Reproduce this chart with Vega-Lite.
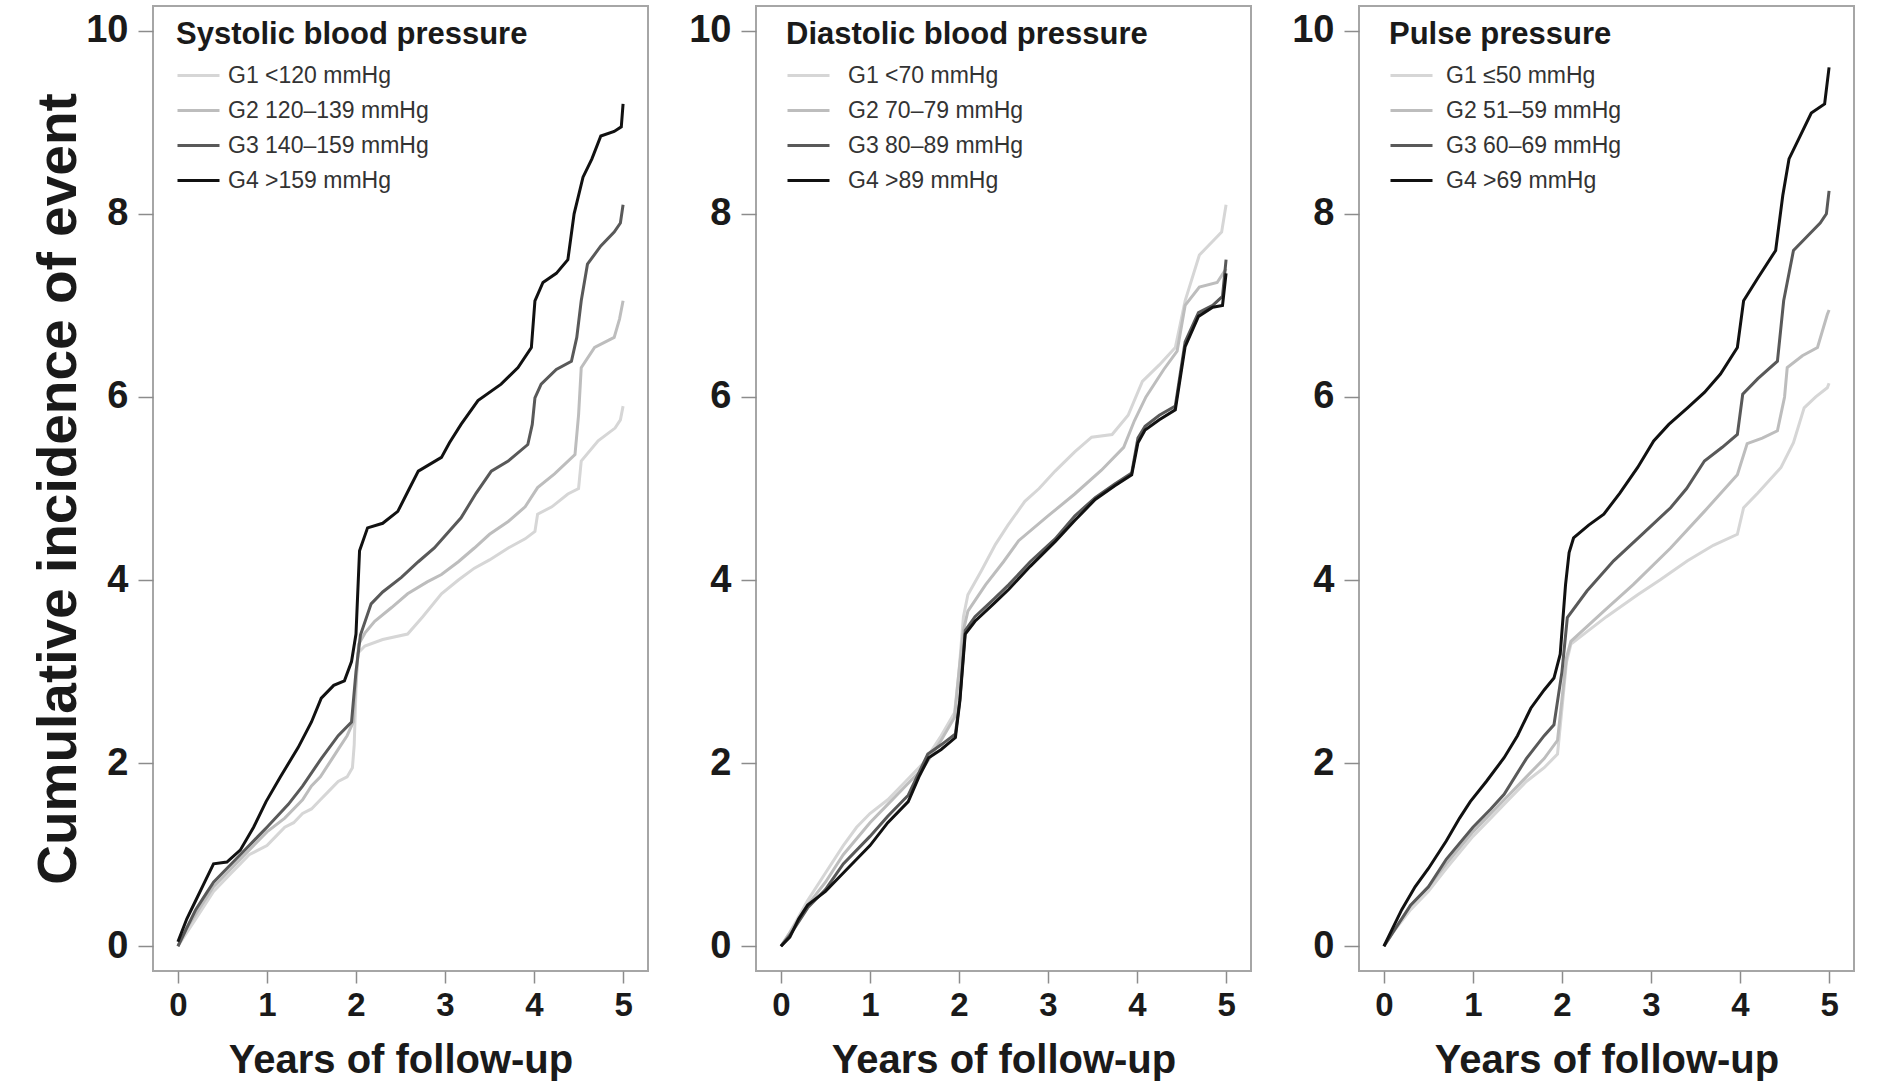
{
  "$schema": "https://vega.github.io/schema/vega-lite/v6.json",
  "background": "white",
  "padding": {"left": 30, "top": 5, "right": 5, "bottom": 5},
  "config": {
    "font": "Liberation Sans",
    "view": {"stroke": "#a6a6a6", "strokeWidth": 2},
    "concat": {"spacing": 38},
    "axis": {"domain": false, "grid": false, "tickColor": "#8c8c8c", "tickWidth": 1.5, "labelFont": "Liberation Sans", "labelFontWeight": "bold", "labelColor": "#1a1a1a", "titleFont": "Liberation Sans", "titleFontWeight": "bold", "titleColor": "#1a1a1a", "labelOverlap": false},
    "axisX": {"tickSize": 12, "labelFontSize": 33, "labelPadding": 6, "titleFontSize": 40, "titlePadding": 18},
    "axisY": {"tickSize": 15, "labelFontSize": 38, "labelPadding": 10, "titleFontSize": 55, "titlePadding": -2},
    "legend": {"titleFont": "Liberation Sans", "titleFontSize": 31, "titleFontWeight": "bold", "titleColor": "#1a1a1a", "labelFont": "Liberation Sans", "labelFontSize": 23, "labelColor": "#333333", "symbolType": "stroke", "symbolSize": 1764, "symbolStrokeWidth": 3, "rowPadding": -1, "titlePadding": 2, "padding": 0, "titleLimit": 700, "labelLimit": 400}
  },
  "datasets": {
    "sbp": [
      {"group":"G1 <120 mmHg","t":0,"ci":0},{"group":"G1 <120 mmHg","t":0.1,"ci":0.15},{"group":"G1 <120 mmHg","t":0.2,"ci":0.3},{"group":"G1 <120 mmHg","t":0.3,"ci":0.45},{"group":"G1 <120 mmHg","t":0.4,"ci":0.6},{"group":"G1 <120 mmHg","t":0.5,"ci":0.7},{"group":"G1 <120 mmHg","t":0.6,"ci":0.8},{"group":"G1 <120 mmHg","t":0.7,"ci":0.9},{"group":"G1 <120 mmHg","t":0.8,"ci":1.0},{"group":"G1 <120 mmHg","t":0.9,"ci":1.05},{"group":"G1 <120 mmHg","t":1.0,"ci":1.1},{"group":"G1 <120 mmHg","t":1.1,"ci":1.2},{"group":"G1 <120 mmHg","t":1.2,"ci":1.3},{"group":"G1 <120 mmHg","t":1.3,"ci":1.35},{"group":"G1 <120 mmHg","t":1.4,"ci":1.45},{"group":"G1 <120 mmHg","t":1.5,"ci":1.5},{"group":"G1 <120 mmHg","t":1.6,"ci":1.6},{"group":"G1 <120 mmHg","t":1.7,"ci":1.7},{"group":"G1 <120 mmHg","t":1.8,"ci":1.8},{"group":"G1 <120 mmHg","t":1.9,"ci":1.85},{"group":"G1 <120 mmHg","t":1.96,"ci":1.95},{"group":"G1 <120 mmHg","t":1.98,"ci":2.2},{"group":"G1 <120 mmHg","t":2.0,"ci":2.8},{"group":"G1 <120 mmHg","t":2.02,"ci":3.2},{"group":"G1 <120 mmHg","t":2.1,"ci":3.28},{"group":"G1 <120 mmHg","t":2.3,"ci":3.35},{"group":"G1 <120 mmHg","t":2.58,"ci":3.41},{"group":"G1 <120 mmHg","t":2.75,"ci":3.6},{"group":"G1 <120 mmHg","t":2.96,"ci":3.85},{"group":"G1 <120 mmHg","t":3.15,"ci":4.0},{"group":"G1 <120 mmHg","t":3.33,"ci":4.13},{"group":"G1 <120 mmHg","t":3.5,"ci":4.22},{"group":"G1 <120 mmHg","t":3.71,"ci":4.35},{"group":"G1 <120 mmHg","t":3.9,"ci":4.45},{"group":"G1 <120 mmHg","t":4.01,"ci":4.53},{"group":"G1 <120 mmHg","t":4.04,"ci":4.72},{"group":"G1 <120 mmHg","t":4.2,"ci":4.8},{"group":"G1 <120 mmHg","t":4.38,"ci":4.94},{"group":"G1 <120 mmHg","t":4.5,"ci":5.0},{"group":"G1 <120 mmHg","t":4.53,"ci":5.3},{"group":"G1 <120 mmHg","t":4.72,"ci":5.52},{"group":"G1 <120 mmHg","t":4.91,"ci":5.66},{"group":"G1 <120 mmHg","t":4.97,"ci":5.75},{"group":"G1 <120 mmHg","t":5.0,"ci":5.9},
      {"group":"G2 120–139 mmHg","t":0,"ci":0},{"group":"G2 120–139 mmHg","t":0.1,"ci":0.2},{"group":"G2 120–139 mmHg","t":0.2,"ci":0.35},{"group":"G2 120–139 mmHg","t":0.3,"ci":0.5},{"group":"G2 120–139 mmHg","t":0.4,"ci":0.65},{"group":"G2 120–139 mmHg","t":0.5,"ci":0.75},{"group":"G2 120–139 mmHg","t":0.7,"ci":0.95},{"group":"G2 120–139 mmHg","t":0.9,"ci":1.15},{"group":"G2 120–139 mmHg","t":1.0,"ci":1.25},{"group":"G2 120–139 mmHg","t":1.2,"ci":1.4},{"group":"G2 120–139 mmHg","t":1.4,"ci":1.6},{"group":"G2 120–139 mmHg","t":1.5,"ci":1.75},{"group":"G2 120–139 mmHg","t":1.6,"ci":1.85},{"group":"G2 120–139 mmHg","t":1.7,"ci":2.0},{"group":"G2 120–139 mmHg","t":1.8,"ci":2.15},{"group":"G2 120–139 mmHg","t":1.9,"ci":2.3},{"group":"G2 120–139 mmHg","t":1.97,"ci":2.45},{"group":"G2 120–139 mmHg","t":2.0,"ci":2.9},{"group":"G2 120–139 mmHg","t":2.03,"ci":3.3},{"group":"G2 120–139 mmHg","t":2.1,"ci":3.42},{"group":"G2 120–139 mmHg","t":2.21,"ci":3.55},{"group":"G2 120–139 mmHg","t":2.4,"ci":3.7},{"group":"G2 120–139 mmHg","t":2.58,"ci":3.85},{"group":"G2 120–139 mmHg","t":2.8,"ci":3.98},{"group":"G2 120–139 mmHg","t":2.96,"ci":4.06},{"group":"G2 120–139 mmHg","t":3.15,"ci":4.2},{"group":"G2 120–139 mmHg","t":3.33,"ci":4.35},{"group":"G2 120–139 mmHg","t":3.5,"ci":4.5},{"group":"G2 120–139 mmHg","t":3.71,"ci":4.64},{"group":"G2 120–139 mmHg","t":3.9,"ci":4.8},{"group":"G2 120–139 mmHg","t":4.04,"ci":5.01},{"group":"G2 120–139 mmHg","t":4.23,"ci":5.16},{"group":"G2 120–139 mmHg","t":4.46,"ci":5.37},{"group":"G2 120–139 mmHg","t":4.5,"ci":5.8},{"group":"G2 120–139 mmHg","t":4.53,"ci":6.32},{"group":"G2 120–139 mmHg","t":4.68,"ci":6.54},{"group":"G2 120–139 mmHg","t":4.9,"ci":6.65},{"group":"G2 120–139 mmHg","t":4.96,"ci":6.85},{"group":"G2 120–139 mmHg","t":5.0,"ci":7.05},
      {"group":"G3 140–159 mmHg","t":0,"ci":0},{"group":"G3 140–159 mmHg","t":0.1,"ci":0.2},{"group":"G3 140–159 mmHg","t":0.2,"ci":0.4},{"group":"G3 140–159 mmHg","t":0.3,"ci":0.55},{"group":"G3 140–159 mmHg","t":0.4,"ci":0.7},{"group":"G3 140–159 mmHg","t":0.5,"ci":0.8},{"group":"G3 140–159 mmHg","t":0.7,"ci":1.0},{"group":"G3 140–159 mmHg","t":0.9,"ci":1.2},{"group":"G3 140–159 mmHg","t":1.0,"ci":1.3},{"group":"G3 140–159 mmHg","t":1.24,"ci":1.55},{"group":"G3 140–159 mmHg","t":1.4,"ci":1.75},{"group":"G3 140–159 mmHg","t":1.61,"ci":2.05},{"group":"G3 140–159 mmHg","t":1.8,"ci":2.3},{"group":"G3 140–159 mmHg","t":1.95,"ci":2.45},{"group":"G3 140–159 mmHg","t":2.0,"ci":3.0},{"group":"G3 140–159 mmHg","t":2.05,"ci":3.4},{"group":"G3 140–159 mmHg","t":2.17,"ci":3.74},{"group":"G3 140–159 mmHg","t":2.3,"ci":3.87},{"group":"G3 140–159 mmHg","t":2.51,"ci":4.03},{"group":"G3 140–159 mmHg","t":2.7,"ci":4.2},{"group":"G3 140–159 mmHg","t":2.88,"ci":4.35},{"group":"G3 140–159 mmHg","t":3.18,"ci":4.68},{"group":"G3 140–159 mmHg","t":3.35,"ci":4.95},{"group":"G3 140–159 mmHg","t":3.52,"ci":5.19},{"group":"G3 140–159 mmHg","t":3.71,"ci":5.3},{"group":"G3 140–159 mmHg","t":3.93,"ci":5.48},{"group":"G3 140–159 mmHg","t":3.98,"ci":5.7},{"group":"G3 140–159 mmHg","t":4.01,"ci":5.99},{"group":"G3 140–159 mmHg","t":4.08,"ci":6.14},{"group":"G3 140–159 mmHg","t":4.25,"ci":6.3},{"group":"G3 140–159 mmHg","t":4.42,"ci":6.39},{"group":"G3 140–159 mmHg","t":4.48,"ci":6.65},{"group":"G3 140–159 mmHg","t":4.53,"ci":7.05},{"group":"G3 140–159 mmHg","t":4.6,"ci":7.45},{"group":"G3 140–159 mmHg","t":4.75,"ci":7.65},{"group":"G3 140–159 mmHg","t":4.9,"ci":7.8},{"group":"G3 140–159 mmHg","t":4.97,"ci":7.9},{"group":"G3 140–159 mmHg","t":5.0,"ci":8.1},
      {"group":"G4 >159 mmHg","t":0,"ci":0.05},{"group":"G4 >159 mmHg","t":0.1,"ci":0.3},{"group":"G4 >159 mmHg","t":0.2,"ci":0.5},{"group":"G4 >159 mmHg","t":0.3,"ci":0.7},{"group":"G4 >159 mmHg","t":0.4,"ci":0.9},{"group":"G4 >159 mmHg","t":0.55,"ci":0.92},{"group":"G4 >159 mmHg","t":0.7,"ci":1.05},{"group":"G4 >159 mmHg","t":0.85,"ci":1.3},{"group":"G4 >159 mmHg","t":0.99,"ci":1.58},{"group":"G4 >159 mmHg","t":1.15,"ci":1.85},{"group":"G4 >159 mmHg","t":1.35,"ci":2.17},{"group":"G4 >159 mmHg","t":1.5,"ci":2.45},{"group":"G4 >159 mmHg","t":1.61,"ci":2.71},{"group":"G4 >159 mmHg","t":1.75,"ci":2.85},{"group":"G4 >159 mmHg","t":1.87,"ci":2.9},{"group":"G4 >159 mmHg","t":1.95,"ci":3.11},{"group":"G4 >159 mmHg","t":2.0,"ci":3.41},{"group":"G4 >159 mmHg","t":2.04,"ci":4.32},{"group":"G4 >159 mmHg","t":2.13,"ci":4.57},{"group":"G4 >159 mmHg","t":2.3,"ci":4.62},{"group":"G4 >159 mmHg","t":2.47,"ci":4.75},{"group":"G4 >159 mmHg","t":2.6,"ci":5.0},{"group":"G4 >159 mmHg","t":2.7,"ci":5.19},{"group":"G4 >159 mmHg","t":2.96,"ci":5.34},{"group":"G4 >159 mmHg","t":3.05,"ci":5.5},{"group":"G4 >159 mmHg","t":3.18,"ci":5.7},{"group":"G4 >159 mmHg","t":3.37,"ci":5.96},{"group":"G4 >159 mmHg","t":3.63,"ci":6.14},{"group":"G4 >159 mmHg","t":3.82,"ci":6.32},{"group":"G4 >159 mmHg","t":3.97,"ci":6.54},{"group":"G4 >159 mmHg","t":4.01,"ci":7.05},{"group":"G4 >159 mmHg","t":4.1,"ci":7.25},{"group":"G4 >159 mmHg","t":4.25,"ci":7.35},{"group":"G4 >159 mmHg","t":4.38,"ci":7.5},{"group":"G4 >159 mmHg","t":4.45,"ci":8.0},{"group":"G4 >159 mmHg","t":4.55,"ci":8.4},{"group":"G4 >159 mmHg","t":4.65,"ci":8.6},{"group":"G4 >159 mmHg","t":4.75,"ci":8.85},{"group":"G4 >159 mmHg","t":4.9,"ci":8.9},{"group":"G4 >159 mmHg","t":4.98,"ci":8.95},{"group":"G4 >159 mmHg","t":5.0,"ci":9.2}
    ],
    "dbp": [
      {"group":"G1 <70 mmHg","t":0,"ci":0},{"group":"G1 <70 mmHg","t":0.1,"ci":0.15},{"group":"G1 <70 mmHg","t":0.3,"ci":0.5},{"group":"G1 <70 mmHg","t":0.5,"ci":0.8},{"group":"G1 <70 mmHg","t":0.7,"ci":1.1},{"group":"G1 <70 mmHg","t":0.85,"ci":1.3},{"group":"G1 <70 mmHg","t":1.0,"ci":1.45},{"group":"G1 <70 mmHg","t":1.2,"ci":1.6},{"group":"G1 <70 mmHg","t":1.4,"ci":1.8},{"group":"G1 <70 mmHg","t":1.6,"ci":2.0},{"group":"G1 <70 mmHg","t":1.8,"ci":2.3},{"group":"G1 <70 mmHg","t":1.95,"ci":2.55},{"group":"G1 <70 mmHg","t":2.0,"ci":3.0},{"group":"G1 <70 mmHg","t":2.05,"ci":3.6},{"group":"G1 <70 mmHg","t":2.1,"ci":3.84},{"group":"G1 <70 mmHg","t":2.25,"ci":4.1},{"group":"G1 <70 mmHg","t":2.41,"ci":4.39},{"group":"G1 <70 mmHg","t":2.55,"ci":4.6},{"group":"G1 <70 mmHg","t":2.74,"ci":4.86},{"group":"G1 <70 mmHg","t":2.9,"ci":5.0},{"group":"G1 <70 mmHg","t":3.08,"ci":5.19},{"group":"G1 <70 mmHg","t":3.3,"ci":5.4},{"group":"G1 <70 mmHg","t":3.49,"ci":5.56},{"group":"G1 <70 mmHg","t":3.72,"ci":5.59},{"group":"G1 <70 mmHg","t":3.9,"ci":5.8},{"group":"G1 <70 mmHg","t":4.06,"ci":6.17},{"group":"G1 <70 mmHg","t":4.25,"ci":6.35},{"group":"G1 <70 mmHg","t":4.43,"ci":6.54},{"group":"G1 <70 mmHg","t":4.54,"ci":7.05},{"group":"G1 <70 mmHg","t":4.7,"ci":7.55},{"group":"G1 <70 mmHg","t":4.85,"ci":7.7},{"group":"G1 <70 mmHg","t":4.95,"ci":7.8},{"group":"G1 <70 mmHg","t":5.0,"ci":8.1},
      {"group":"G2 70–79 mmHg","t":0,"ci":0},{"group":"G2 70–79 mmHg","t":0.1,"ci":0.15},{"group":"G2 70–79 mmHg","t":0.3,"ci":0.45},{"group":"G2 70–79 mmHg","t":0.5,"ci":0.7},{"group":"G2 70–79 mmHg","t":0.7,"ci":1.0},{"group":"G2 70–79 mmHg","t":1.0,"ci":1.35},{"group":"G2 70–79 mmHg","t":1.2,"ci":1.55},{"group":"G2 70–79 mmHg","t":1.4,"ci":1.75},{"group":"G2 70–79 mmHg","t":1.6,"ci":1.95},{"group":"G2 70–79 mmHg","t":1.8,"ci":2.25},{"group":"G2 70–79 mmHg","t":1.95,"ci":2.5},{"group":"G2 70–79 mmHg","t":2.0,"ci":3.0},{"group":"G2 70–79 mmHg","t":2.05,"ci":3.45},{"group":"G2 70–79 mmHg","t":2.1,"ci":3.66},{"group":"G2 70–79 mmHg","t":2.3,"ci":3.95},{"group":"G2 70–79 mmHg","t":2.5,"ci":4.2},{"group":"G2 70–79 mmHg","t":2.67,"ci":4.43},{"group":"G2 70–79 mmHg","t":3.0,"ci":4.7},{"group":"G2 70–79 mmHg","t":3.3,"ci":4.94},{"group":"G2 70–79 mmHg","t":3.6,"ci":5.2},{"group":"G2 70–79 mmHg","t":3.85,"ci":5.45},{"group":"G2 70–79 mmHg","t":3.97,"ci":5.74},{"group":"G2 70–79 mmHg","t":4.1,"ci":6.0},{"group":"G2 70–79 mmHg","t":4.3,"ci":6.3},{"group":"G2 70–79 mmHg","t":4.45,"ci":6.5},{"group":"G2 70–79 mmHg","t":4.54,"ci":7.0},{"group":"G2 70–79 mmHg","t":4.7,"ci":7.2},{"group":"G2 70–79 mmHg","t":4.9,"ci":7.25},{"group":"G2 70–79 mmHg","t":5.0,"ci":7.4},
      {"group":"G3 80–89 mmHg","t":0,"ci":0},{"group":"G3 80–89 mmHg","t":0.1,"ci":0.12},{"group":"G3 80–89 mmHg","t":0.3,"ci":0.42},{"group":"G3 80–89 mmHg","t":0.5,"ci":0.62},{"group":"G3 80–89 mmHg","t":0.7,"ci":0.9},{"group":"G3 80–89 mmHg","t":1.0,"ci":1.2},{"group":"G3 80–89 mmHg","t":1.2,"ci":1.42},{"group":"G3 80–89 mmHg","t":1.43,"ci":1.65},{"group":"G3 80–89 mmHg","t":1.65,"ci":2.1},{"group":"G3 80–89 mmHg","t":1.8,"ci":2.2},{"group":"G3 80–89 mmHg","t":1.96,"ci":2.32},{"group":"G3 80–89 mmHg","t":2.01,"ci":2.7},{"group":"G3 80–89 mmHg","t":2.07,"ci":3.45},{"group":"G3 80–89 mmHg","t":2.18,"ci":3.6},{"group":"G3 80–89 mmHg","t":2.4,"ci":3.8},{"group":"G3 80–89 mmHg","t":2.56,"ci":3.95},{"group":"G3 80–89 mmHg","t":2.8,"ci":4.2},{"group":"G3 80–89 mmHg","t":3.08,"ci":4.45},{"group":"G3 80–89 mmHg","t":3.3,"ci":4.7},{"group":"G3 80–89 mmHg","t":3.53,"ci":4.9},{"group":"G3 80–89 mmHg","t":3.75,"ci":5.05},{"group":"G3 80–89 mmHg","t":3.94,"ci":5.17},{"group":"G3 80–89 mmHg","t":4.01,"ci":5.55},{"group":"G3 80–89 mmHg","t":4.09,"ci":5.68},{"group":"G3 80–89 mmHg","t":4.25,"ci":5.8},{"group":"G3 80–89 mmHg","t":4.43,"ci":5.9},{"group":"G3 80–89 mmHg","t":4.54,"ci":6.6},{"group":"G3 80–89 mmHg","t":4.69,"ci":6.92},{"group":"G3 80–89 mmHg","t":4.85,"ci":7.0},{"group":"G3 80–89 mmHg","t":4.96,"ci":7.1},{"group":"G3 80–89 mmHg","t":5.0,"ci":7.5},
      {"group":"G4 >89 mmHg","t":0,"ci":0},{"group":"G4 >89 mmHg","t":0.1,"ci":0.1},{"group":"G4 >89 mmHg","t":0.2,"ci":0.3},{"group":"G4 >89 mmHg","t":0.3,"ci":0.45},{"group":"G4 >89 mmHg","t":0.5,"ci":0.6},{"group":"G4 >89 mmHg","t":0.7,"ci":0.8},{"group":"G4 >89 mmHg","t":0.85,"ci":0.95},{"group":"G4 >89 mmHg","t":1.0,"ci":1.1},{"group":"G4 >89 mmHg","t":1.2,"ci":1.35},{"group":"G4 >89 mmHg","t":1.43,"ci":1.58},{"group":"G4 >89 mmHg","t":1.55,"ci":1.85},{"group":"G4 >89 mmHg","t":1.66,"ci":2.06},{"group":"G4 >89 mmHg","t":1.8,"ci":2.15},{"group":"G4 >89 mmHg","t":1.96,"ci":2.28},{"group":"G4 >89 mmHg","t":2.01,"ci":2.68},{"group":"G4 >89 mmHg","t":2.07,"ci":3.41},{"group":"G4 >89 mmHg","t":2.18,"ci":3.55},{"group":"G4 >89 mmHg","t":2.4,"ci":3.75},{"group":"G4 >89 mmHg","t":2.56,"ci":3.9},{"group":"G4 >89 mmHg","t":2.8,"ci":4.15},{"group":"G4 >89 mmHg","t":3.08,"ci":4.42},{"group":"G4 >89 mmHg","t":3.3,"ci":4.65},{"group":"G4 >89 mmHg","t":3.53,"ci":4.88},{"group":"G4 >89 mmHg","t":3.75,"ci":5.03},{"group":"G4 >89 mmHg","t":3.94,"ci":5.15},{"group":"G4 >89 mmHg","t":4.01,"ci":5.5},{"group":"G4 >89 mmHg","t":4.09,"ci":5.64},{"group":"G4 >89 mmHg","t":4.25,"ci":5.75},{"group":"G4 >89 mmHg","t":4.43,"ci":5.86},{"group":"G4 >89 mmHg","t":4.54,"ci":6.55},{"group":"G4 >89 mmHg","t":4.69,"ci":6.88},{"group":"G4 >89 mmHg","t":4.85,"ci":6.98},{"group":"G4 >89 mmHg","t":4.96,"ci":7.0},{"group":"G4 >89 mmHg","t":5.0,"ci":7.35}
    ],
    "pp": [
      {"group":"G1 ≤50 mmHg","t":0,"ci":0},{"group":"G1 ≤50 mmHg","t":0.1,"ci":0.15},{"group":"G1 ≤50 mmHg","t":0.3,"ci":0.4},{"group":"G1 ≤50 mmHg","t":0.5,"ci":0.6},{"group":"G1 ≤50 mmHg","t":0.7,"ci":0.85},{"group":"G1 ≤50 mmHg","t":1.0,"ci":1.2},{"group":"G1 ≤50 mmHg","t":1.2,"ci":1.4},{"group":"G1 ≤50 mmHg","t":1.4,"ci":1.6},{"group":"G1 ≤50 mmHg","t":1.6,"ci":1.8},{"group":"G1 ≤50 mmHg","t":1.8,"ci":1.95},{"group":"G1 ≤50 mmHg","t":1.95,"ci":2.1},{"group":"G1 ≤50 mmHg","t":2.0,"ci":2.6},{"group":"G1 ≤50 mmHg","t":2.05,"ci":3.1},{"group":"G1 ≤50 mmHg","t":2.1,"ci":3.3},{"group":"G1 ≤50 mmHg","t":2.3,"ci":3.45},{"group":"G1 ≤50 mmHg","t":2.5,"ci":3.6},{"group":"G1 ≤50 mmHg","t":2.85,"ci":3.84},{"group":"G1 ≤50 mmHg","t":3.1,"ci":4.0},{"group":"G1 ≤50 mmHg","t":3.41,"ci":4.21},{"group":"G1 ≤50 mmHg","t":3.7,"ci":4.38},{"group":"G1 ≤50 mmHg","t":3.97,"ci":4.5},{"group":"G1 ≤50 mmHg","t":4.04,"ci":4.79},{"group":"G1 ≤50 mmHg","t":4.2,"ci":4.95},{"group":"G1 ≤50 mmHg","t":4.46,"ci":5.23},{"group":"G1 ≤50 mmHg","t":4.6,"ci":5.5},{"group":"G1 ≤50 mmHg","t":4.72,"ci":5.88},{"group":"G1 ≤50 mmHg","t":4.85,"ci":6.0},{"group":"G1 ≤50 mmHg","t":4.98,"ci":6.1},{"group":"G1 ≤50 mmHg","t":5.0,"ci":6.15},
      {"group":"G2 51–59 mmHg","t":0,"ci":0},{"group":"G2 51–59 mmHg","t":0.1,"ci":0.15},{"group":"G2 51–59 mmHg","t":0.3,"ci":0.45},{"group":"G2 51–59 mmHg","t":0.5,"ci":0.65},{"group":"G2 51–59 mmHg","t":0.7,"ci":0.9},{"group":"G2 51–59 mmHg","t":1.0,"ci":1.25},{"group":"G2 51–59 mmHg","t":1.2,"ci":1.45},{"group":"G2 51–59 mmHg","t":1.4,"ci":1.65},{"group":"G2 51–59 mmHg","t":1.6,"ci":1.85},{"group":"G2 51–59 mmHg","t":1.8,"ci":2.05},{"group":"G2 51–59 mmHg","t":1.95,"ci":2.25},{"group":"G2 51–59 mmHg","t":2.0,"ci":2.7},{"group":"G2 51–59 mmHg","t":2.05,"ci":3.15},{"group":"G2 51–59 mmHg","t":2.1,"ci":3.33},{"group":"G2 51–59 mmHg","t":2.47,"ci":3.66},{"group":"G2 51–59 mmHg","t":2.8,"ci":3.95},{"group":"G2 51–59 mmHg","t":3.22,"ci":4.35},{"group":"G2 51–59 mmHg","t":3.6,"ci":4.75},{"group":"G2 51–59 mmHg","t":3.97,"ci":5.15},{"group":"G2 51–59 mmHg","t":4.08,"ci":5.49},{"group":"G2 51–59 mmHg","t":4.25,"ci":5.55},{"group":"G2 51–59 mmHg","t":4.42,"ci":5.63},{"group":"G2 51–59 mmHg","t":4.5,"ci":6.0},{"group":"G2 51–59 mmHg","t":4.53,"ci":6.32},{"group":"G2 51–59 mmHg","t":4.7,"ci":6.45},{"group":"G2 51–59 mmHg","t":4.87,"ci":6.54},{"group":"G2 51–59 mmHg","t":4.98,"ci":6.9},{"group":"G2 51–59 mmHg","t":5.0,"ci":6.95},
      {"group":"G3 60–69 mmHg","t":0,"ci":0},{"group":"G3 60–69 mmHg","t":0.1,"ci":0.15},{"group":"G3 60–69 mmHg","t":0.3,"ci":0.45},{"group":"G3 60–69 mmHg","t":0.5,"ci":0.65},{"group":"G3 60–69 mmHg","t":0.7,"ci":0.95},{"group":"G3 60–69 mmHg","t":1.0,"ci":1.3},{"group":"G3 60–69 mmHg","t":1.2,"ci":1.5},{"group":"G3 60–69 mmHg","t":1.35,"ci":1.66},{"group":"G3 60–69 mmHg","t":1.6,"ci":2.05},{"group":"G3 60–69 mmHg","t":1.8,"ci":2.3},{"group":"G3 60–69 mmHg","t":1.91,"ci":2.42},{"group":"G3 60–69 mmHg","t":2.0,"ci":3.0},{"group":"G3 60–69 mmHg","t":2.06,"ci":3.59},{"group":"G3 60–69 mmHg","t":2.28,"ci":3.88},{"group":"G3 60–69 mmHg","t":2.58,"ci":4.21},{"group":"G3 60–69 mmHg","t":2.9,"ci":4.5},{"group":"G3 60–69 mmHg","t":3.22,"ci":4.79},{"group":"G3 60–69 mmHg","t":3.4,"ci":5.0},{"group":"G3 60–69 mmHg","t":3.6,"ci":5.3},{"group":"G3 60–69 mmHg","t":3.8,"ci":5.45},{"group":"G3 60–69 mmHg","t":3.97,"ci":5.59},{"group":"G3 60–69 mmHg","t":4.03,"ci":6.03},{"group":"G3 60–69 mmHg","t":4.2,"ci":6.2},{"group":"G3 60–69 mmHg","t":4.42,"ci":6.39},{"group":"G3 60–69 mmHg","t":4.49,"ci":7.05},{"group":"G3 60–69 mmHg","t":4.6,"ci":7.6},{"group":"G3 60–69 mmHg","t":4.75,"ci":7.75},{"group":"G3 60–69 mmHg","t":4.9,"ci":7.9},{"group":"G3 60–69 mmHg","t":4.97,"ci":8.0},{"group":"G3 60–69 mmHg","t":5.0,"ci":8.25},
      {"group":"G4 >69 mmHg","t":0,"ci":0},{"group":"G4 >69 mmHg","t":0.1,"ci":0.2},{"group":"G4 >69 mmHg","t":0.2,"ci":0.4},{"group":"G4 >69 mmHg","t":0.35,"ci":0.65},{"group":"G4 >69 mmHg","t":0.5,"ci":0.85},{"group":"G4 >69 mmHg","t":0.7,"ci":1.15},{"group":"G4 >69 mmHg","t":0.85,"ci":1.4},{"group":"G4 >69 mmHg","t":0.97,"ci":1.58},{"group":"G4 >69 mmHg","t":1.15,"ci":1.8},{"group":"G4 >69 mmHg","t":1.35,"ci":2.06},{"group":"G4 >69 mmHg","t":1.5,"ci":2.3},{"group":"G4 >69 mmHg","t":1.65,"ci":2.6},{"group":"G4 >69 mmHg","t":1.8,"ci":2.8},{"group":"G4 >69 mmHg","t":1.91,"ci":2.93},{"group":"G4 >69 mmHg","t":1.98,"ci":3.19},{"group":"G4 >69 mmHg","t":2.04,"ci":3.95},{"group":"G4 >69 mmHg","t":2.08,"ci":4.3},{"group":"G4 >69 mmHg","t":2.13,"ci":4.46},{"group":"G4 >69 mmHg","t":2.3,"ci":4.6},{"group":"G4 >69 mmHg","t":2.47,"ci":4.72},{"group":"G4 >69 mmHg","t":2.65,"ci":4.95},{"group":"G4 >69 mmHg","t":2.85,"ci":5.23},{"group":"G4 >69 mmHg","t":3.03,"ci":5.52},{"group":"G4 >69 mmHg","t":3.2,"ci":5.7},{"group":"G4 >69 mmHg","t":3.41,"ci":5.88},{"group":"G4 >69 mmHg","t":3.6,"ci":6.05},{"group":"G4 >69 mmHg","t":3.78,"ci":6.25},{"group":"G4 >69 mmHg","t":3.97,"ci":6.54},{"group":"G4 >69 mmHg","t":4.04,"ci":7.05},{"group":"G4 >69 mmHg","t":4.2,"ci":7.3},{"group":"G4 >69 mmHg","t":4.4,"ci":7.6},{"group":"G4 >69 mmHg","t":4.48,"ci":8.2},{"group":"G4 >69 mmHg","t":4.55,"ci":8.6},{"group":"G4 >69 mmHg","t":4.65,"ci":8.8},{"group":"G4 >69 mmHg","t":4.8,"ci":9.1},{"group":"G4 >69 mmHg","t":4.95,"ci":9.2},{"group":"G4 >69 mmHg","t":5.0,"ci":9.6}
    ]
  },
  "hconcat": [
    {
      "width": 495, "height": 965,
      "data": {"name": "sbp"},
      "mark": {"type": "line", "strokeWidth": 3},
      "encoding": {
        "x": {"field": "t", "type": "quantitative", "scale": {"domain": [-0.28, 5.28], "nice": false, "zero": false}, "axis": {"values": [0, 1, 2, 3, 4, 5], "title": "Years of follow-up"}},
        "y": {"field": "ci", "type": "quantitative", "scale": {"domain": [-0.27, 10.27], "nice": false, "zero": false}, "axis": {"values": [0, 2, 4, 6, 8, 10], "title": "Cumulative incidence of event"}},
        "color": {"field": "group", "type": "nominal", "scale": {"domain": ["G1 <120 mmHg", "G2 120–139 mmHg", "G3 140–159 mmHg", "G4 >159 mmHg"], "range": ["#d6d6d6", "#bdbdbd", "#595959", "#111111"]}, "legend": {"title": "Systolic blood pressure", "orient": "none", "legendX": 23, "legendY": 14, "labelOffset": 7}}
      }
    },
    {
      "width": 495, "height": 965,
      "data": {"name": "dbp"},
      "mark": {"type": "line", "strokeWidth": 3},
      "encoding": {
        "x": {"field": "t", "type": "quantitative", "scale": {"domain": [-0.28, 5.28], "nice": false, "zero": false}, "axis": {"values": [0, 1, 2, 3, 4, 5], "title": "Years of follow-up"}},
        "y": {"field": "ci", "type": "quantitative", "scale": {"domain": [-0.27, 10.27], "nice": false, "zero": false}, "axis": {"values": [0, 2, 4, 6, 8, 10], "title": null}},
        "color": {"field": "group", "type": "nominal", "scale": {"domain": ["G1 <70 mmHg", "G2 70–79 mmHg", "G3 80–89 mmHg", "G4 >89 mmHg"], "range": ["#d6d6d6", "#bdbdbd", "#595959", "#111111"]}, "legend": {"title": "Diastolic blood pressure", "orient": "none", "legendX": 30, "legendY": 14, "labelOffset": 17}}
      }
    },
    {
      "width": 495, "height": 965,
      "data": {"name": "pp"},
      "mark": {"type": "line", "strokeWidth": 3},
      "encoding": {
        "x": {"field": "t", "type": "quantitative", "scale": {"domain": [-0.28, 5.28], "nice": false, "zero": false}, "axis": {"values": [0, 1, 2, 3, 4, 5], "title": "Years of follow-up"}},
        "y": {"field": "ci", "type": "quantitative", "scale": {"domain": [-0.27, 10.27], "nice": false, "zero": false}, "axis": {"values": [0, 2, 4, 6, 8, 10], "title": null}},
        "color": {"field": "group", "type": "nominal", "scale": {"domain": ["G1 ≤50 mmHg", "G2 51–59 mmHg", "G3 60–69 mmHg", "G4 >69 mmHg"], "range": ["#d6d6d6", "#bdbdbd", "#595959", "#111111"]}, "legend": {"title": "Pulse pressure", "orient": "none", "legendX": 30, "legendY": 14, "labelOffset": 12}}
      }
    }
  ],
  "resolve": {"scale": {"color": "independent"}, "legend": {"color": "independent"}}
}
